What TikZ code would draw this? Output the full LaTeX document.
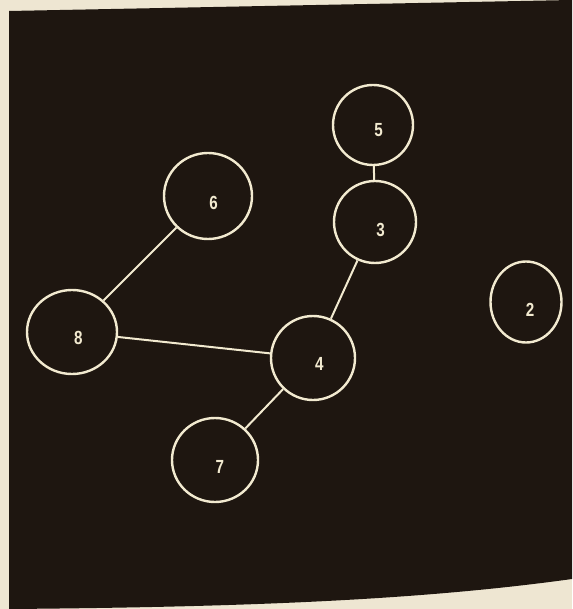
\documentclass[tikz,border=0pt]{standalone}
\usepackage{fontspec}
\setmainfont{Liberation Sans}
\usetikzlibrary{shapes.geometric}
\definecolor{paper}{HTML}{EEE6D2}
\definecolor{screen}{HTML}{1E1610}
\definecolor{glow}{HTML}{F2EAD0}
\tikzset{
  vert/.style={ellipse, draw=glow, line width=2.4pt, inner sep=0pt},
  digit/.style={text=glow, font=\fontsize{19}{19}\selectfont\bfseries, xscale=0.8},
  edgeline/.style={draw=glow, line width=2pt},
}
\begin{document}
\begin{tikzpicture}[x=1pt,y=-1pt]
\useasboundingbox (0,0) rectangle (572,609);
\fill[paper] (0,0) rectangle (572,609);
\fill[screen] (9,11) -- (572,0) -- (572,579) .. controls (420,600) and (250,607) .. (9,609) -- cycle;
\node[vert, minimum width=80pt, minimum height=80pt, label={[digit, xshift=7pt, yshift=-5pt]center:5}] (n5) at (373,125) {};
\node[vert, minimum width=82pt, minimum height=82pt, label={[digit, xshift=7pt, yshift=-8pt]center:3}] (n3) at (375,222) {};
\node[vert, minimum width=88pt, minimum height=86pt, label={[digit, xshift=7pt, yshift=-7pt]center:6}] (n6) at (208,196) {};
\node[vert, minimum width=90pt, minimum height=84pt, label={[digit, xshift=8pt, yshift=-6pt]center:8}] (n8) at (72,332) {};
\node[vert, minimum width=84pt, minimum height=84pt, label={[digit, xshift=8pt, yshift=-6pt]center:4}] (n4) at (313,358) {};
\node[vert, minimum width=86pt, minimum height=84pt, label={[digit, xshift=6pt, yshift=-7pt]center:7}] (n7) at (215,460) {};
\node[vert, minimum width=71pt, minimum height=81pt, label={[digit, xshift=5pt, yshift=-8pt]center:2}] (n2) at (526,302) {};
\draw[edgeline] (n5) -- (n3);
\draw[edgeline] (n3) -- (n4);
\draw[edgeline] (n6) -- (n8);
\draw[edgeline] (n8) -- (n4);
\draw[edgeline] (n4) -- (n7);
\end{tikzpicture}
\end{document}
